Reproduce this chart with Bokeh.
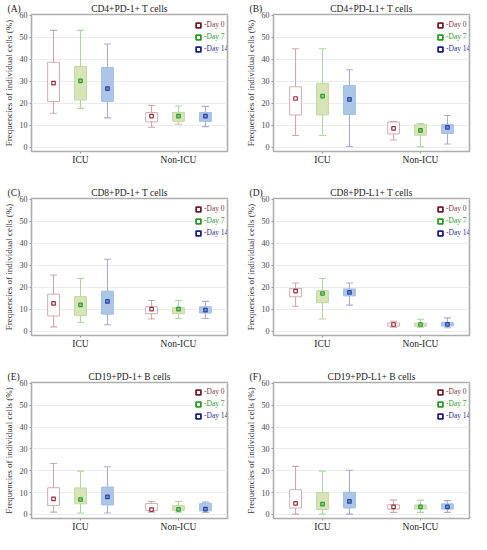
from bokeh.plotting import figure
from bokeh.models import (ColumnDataSource, FactorRange, Range1d, Legend, LegendItem,
                          Title, FixedTicker)
from bokeh.layouts import column, row
from bokeh.transform import dodge
from bokeh.embed import file_html
from bokeh.resources import INLINE

# ---------------- data ----------------
groups = ["ICU", "Non-ICU"]
days = ["Day 0", "Day 7", "Day 14"]
y_ticks = [0, 10, 20, 30, 40, 50, 60]
panel_letters = ["(A)", "(B)", "(C)", "(D)", "(E)", "(F)"]
panel_titles = ["CD4+PD-1+ T cells", "CD4+PD-L1+ T cells",
                "CD8+PD-1+ T cells", "CD8+PD-L1+ T cells",
                "CD19+PD-1+ B cells", "CD19+PD-L1+ B cells"]

# order of each list: ICU Day0, ICU Day7, ICU Day14, Non-ICU Day0, Non-ICU Day7, Non-ICU Day14
A_low = [15.5, 17.7, 13.4, 9.1, 10.5, 9.4]
A_q1 = [20.8, 21.5, 20.8, 11.6, 11.8, 11.8]
A_mean = [29.2, 30.2, 26.7, 14.2, 14.2, 14.2]
A_q3 = [38.7, 36.8, 36.3, 15.8, 15.9, 15.8]
A_high = [53.2, 53.2, 47.0, 19.0, 18.8, 18.6]

B_low = [5.4, 5.4, 0.4, 3.3, 0.3, 1.5]
B_q1 = [14.7, 14.7, 14.9, 6.1, 5.5, 6.3]
B_mean = [22.2, 23.3, 21.8, 8.6, 7.7, 9.1]
B_q3 = [27.5, 29.1, 28.1, 11.5, 10.3, 10.4]
B_high = [44.8, 44.8, 35.3, 11.7, 10.8, 14.5]

C_low = [2.0, 4.0, 3.0, 5.6, 5.8, 5.8]
C_q1 = [7.0, 7.1, 7.8, 8.0, 8.0, 8.3]
C_mean = [12.7, 12.0, 13.6, 10.1, 10.1, 9.6]
C_q3 = [16.9, 15.8, 18.3, 11.2, 10.8, 11.2]
C_high = [25.6, 24.0, 32.8, 14.0, 14.0, 13.6]

D_low = [11.4, 5.6, 11.9, 1.9, 1.9, 1.6]
D_q1 = [15.7, 13.0, 16.1, 2.4, 2.3, 2.4]
D_mean = [18.3, 17.2, 17.7, 3.1, 3.1, 3.2]
D_q3 = [19.5, 18.5, 19.3, 3.8, 3.7, 4.1]
D_high = [22.0, 24.0, 22.0, 4.6, 5.5, 6.1]

E_low = [1.0, 0.6, 0.6, 1.0, 1.0, 0.9]
E_q1 = [4.0, 4.8, 4.3, 1.8, 1.8, 1.6]
E_mean = [7.1, 6.8, 8.0, 2.2, 2.3, 2.4]
E_q3 = [12.2, 12.1, 12.5, 5.0, 4.0, 5.0]
E_high = [23.3, 19.8, 21.8, 5.9, 5.9, 5.6]

F_low = [0.1, 0.1, 0.1, 0.9, 0.9, 0.9]
F_q1 = [2.9, 2.2, 2.9, 2.4, 2.5, 2.4]
F_mean = [5.0, 4.7, 5.9, 3.4, 3.4, 3.4]
F_q3 = [11.3, 10.0, 10.1, 4.4, 4.3, 4.8]
F_high = [22.0, 19.8, 20.2, 6.5, 6.5, 6.3]

panel_data = [
    (A_low, A_q1, A_mean, A_q3, A_high),
    (B_low, B_q1, B_mean, B_q3, B_high),
    (C_low, C_q1, C_mean, C_q3, C_high),
    (D_low, D_q1, D_mean, D_q3, D_high),
    (E_low, E_q1, E_mean, E_q3, E_high),
    (F_low, F_q1, F_mean, F_q3, F_high),
]

# ---------------- styles ----------------
FONT = "Liberation Serif"
Y_START, Y_END = -1.9, 60.4
day_offsets = [-0.275, 0.0, 0.275]
box_fill = ["#ffffff", "#d6e4b6", "#abc6e6"]
box_line = ["#cfadad", "#c2d8a2", "#a2bfe2"]
whisk_col = ["#cba9a9", "#acd6a4", "#aaaccb"]
mean_line = ["#9a2a3c", "#2f9a30", "#2a44a8"]
mean_fill = ["#ffffff", "#8fcc8a", "#7a92d0"]
leg_line = ["#7a1c2c", "#2a9a2a", "#1c1c8a"]
leg_text = ["#8a3545", "#3c9c3c", "#2d2d92"]

FRAME_H = 137


def make_panel(idx, width, height, b_left, b_right, b_top, b_bottom):
    low, q1, mean, q3, high = panel_data[idx]
    p = figure(width=width, height=height, output_backend="svg", toolbar_location=None,
               x_range=FactorRange(factors=groups, range_padding=0),
               y_range=Range1d(Y_START, Y_END), title_location=None,
               min_border_left=b_left, min_border_right=b_right,
               min_border_top=b_top, min_border_bottom=b_bottom)
    p.background_fill_color = "white"
    p.border_fill_color = "white"
    p.outline_line_color = "#adadad"
    p.outline_line_width = 1.6

    # main title (closest to the frame)
    p.add_layout(Title(text=panel_titles[idx], align="center", text_font=FONT,
                       text_font_style="normal", text_font_size="9.5px",
                       text_color="#222222", standoff=2), "above")
    # panel letter on the same line, pulled down with a negative standoff
    p.add_layout(Title(text=panel_letters[idx], align="left", offset=-24,
                       text_font=FONT, text_font_style="normal",
                       text_font_size="9.5px", text_color="#222222",
                       standoff=-26), "above")

    p.xgrid.grid_line_color = None
    p.ygrid.grid_line_color = "#ececec"
    p.ygrid.grid_line_width = 1

    p.yaxis.ticker = FixedTicker(ticks=y_ticks)
    p.yaxis.axis_label = "Frequencies of individual cells (%)"
    p.yaxis.axis_label_text_font = FONT
    p.yaxis.axis_label_text_font_style = "normal"
    p.yaxis.axis_label_text_font_size = "9px"
    p.yaxis.axis_label_text_color = "#333333"
    p.yaxis.axis_label_standoff = 3
    p.yaxis.major_label_text_font = FONT
    p.yaxis.major_label_text_font_size = "8px"
    p.yaxis.major_label_text_color = "#444444"
    p.yaxis.major_label_standoff = 2
    p.yaxis.axis_line_color = None
    p.yaxis.major_tick_out = 2
    p.yaxis.major_tick_in = 0
    p.yaxis.major_tick_line_color = "#999999"
    p.yaxis.minor_tick_line_color = None

    p.xaxis.major_label_text_font = FONT
    p.xaxis.major_label_text_font_size = "9.5px"
    p.xaxis.major_label_text_color = "#222222"
    p.xaxis.major_label_standoff = 1
    p.xaxis.axis_line_color = None
    p.xaxis.major_tick_out = 2
    p.xaxis.major_tick_in = 0
    p.xaxis.major_tick_line_color = "#999999"

    legend_renderers = []
    for d in range(3):
        sel = [d, d + 3]
        src = ColumnDataSource(dict(
            grp=groups,
            low=[low[i] for i in sel],
            q1=[q1[i] for i in sel],
            mean=[mean[i] for i in sel],
            q3=[q3[i] for i in sel],
            high=[high[i] for i in sel],
        ))
        xd = dodge("grp", day_offsets[d], range=p.x_range)
        p.segment(x0=xd, y0="low", x1=xd, y1="high", source=src,
                  line_color=whisk_col[d], line_width=1.1)
        p.scatter(x=xd, y="low", source=src, marker="dash", size=7,
                  line_color=whisk_col[d], line_width=1.1)
        p.scatter(x=xd, y="high", source=src, marker="dash", size=7,
                  line_color=whisk_col[d], line_width=1.1)
        p.vbar(x=xd, width=0.12, bottom="q1", top="q3", source=src,
               fill_color=box_fill[d], line_color=box_line[d], line_width=1)
        # zero-size marker used only as the legend swatch (hidden under the mean marker)
        lr = p.scatter(x=xd, y="mean", source=src, marker="square", size=0,
                       fill_color="white", line_color=leg_line[d], line_width=1.8)
        legend_renderers.append(lr)
        p.scatter(x=xd, y="mean", source=src, marker="square", size=3.5,
                  fill_color=mean_fill[d], line_color=mean_line[d], line_width=1.2)

    # legends (one per day so that each text has its own colour)
    for d in range(3):
        leg = Legend(items=[LegendItem(label="-" + days[d], renderers=[legend_renderers[d]])],
                     location=(161, FRAME_H - (10.5 + 12 * d) - 6),
                     orientation="vertical", padding=0, margin=0, spacing=0,
                     glyph_width=12, glyph_height=12, label_standoff=0,
                     label_height=12, label_width=10, label_text_font=FONT,
                     label_text_font_size="7.5px", label_text_color=leg_text[d],
                     label_text_baseline="middle",
                     border_line_color=None, background_fill_alpha=0)
        p.add_layout(leg)
    return p


pA = make_panel(0, 242, 175, 26, 15, 14, 24)
pB = make_panel(1, 229, 175, 26, 2, 14, 24)
pC = make_panel(2, 242, 184, 26, 15, 23, 24)
pD = make_panel(3, 229, 184, 26, 2, 23, 24)
pE = make_panel(4, 242, 175, 26, 15, 23, 15)
pF = make_panel(5, 229, 175, 26, 2, 23, 15)

layout = column(row(pA, pB), row(pC, pD), row(pE, pF))

open("out.html", "w").write(file_html(layout, INLINE))
